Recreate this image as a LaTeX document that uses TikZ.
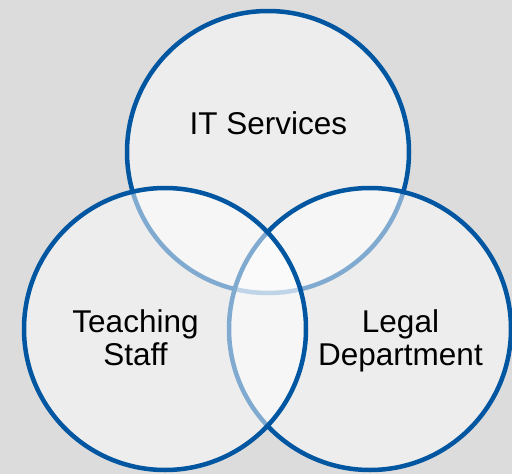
\documentclass[tikz,border=0pt]{standalone}
\usepackage{fontspec}
\setmainfont{Liberation Sans}
\definecolor{ringblue}{RGB}{0,86,160}
\definecolor{bggrey}{RGB}{220,220,220}
\begin{document}
\begin{tikzpicture}[x=1pt,y=-1pt,
  ring/.style={circle, draw=ringblue, line width=4.5pt, fill=white, fill opacity=0.5,
    draw opacity=1, minimum size=282pt, inner sep=0pt, outer sep=0pt},
  label/.style={inner sep=0pt, align=center, text=black,
    font=\fontsize{31.5}{33}\selectfont}]
  \fill[bggrey] (0,0) rectangle (512,474);
  \useasboundingbox (0,0) rectangle (512,474);
  \node[ring] (itc) at (268,152) {};
  \node[ring] (legalc) at (370,329) {};
  \node[ring] (teachc) at (165,329) {};
  \node[label] (it) at (268.5,123.7) {IT Services};
  \node[label] (teach) at (135.5,338) {Teaching\\Staff};
  \node[label] (legal) at (400.5,340.5) {Legal\\Department};
\end{tikzpicture}
\end{document}
